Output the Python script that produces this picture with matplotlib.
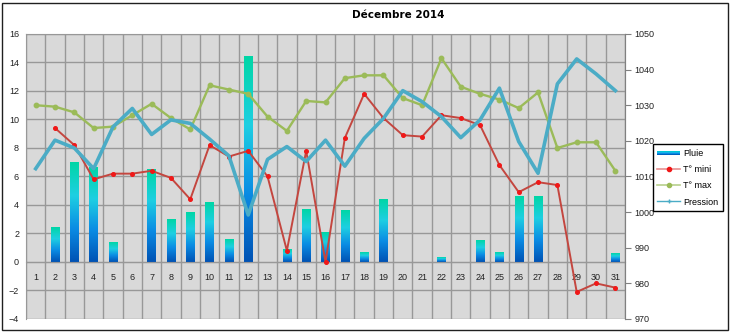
import numpy as np
import matplotlib
matplotlib.use("Agg")
import matplotlib.pyplot as plt
from matplotlib.colors import LinearSegmentedColormap
from matplotlib.patches import Rectangle
from matplotlib.lines import Line2D
from matplotlib.legend_handler import HandlerBase

plt.rcParams['font.family'] = ['Liberation Sans', 'DejaVu Sans']

# Relevés de décembre 2014
days = list(range(1, 32))
pluie = [0, 2.4, 7.0, 6.6, 1.4, 0, 6.5, 3.0, 3.5, 4.2, 1.6, 14.4, 0, 0.9, 3.7, 2.1,
         3.6, 0.7, 4.4, 0, 0, 0.3, 0, 1.5, 0.7, 4.6, 4.6, 0, 0, 0, 0.6]
t_mini = [np.nan, 9.4, 8.2, 5.8, 6.2, 6.2, 6.4, 5.9, 4.4, 8.2, 7.4, 7.8, 6.0, 0.8, 7.8, 0.0,
          8.7, 11.8, 10.1, 8.9, 8.8, 10.3, 10.1, 9.6, 6.8, 4.9, 5.6, 5.4, -2.1, -1.5, -1.8]
t_max = [11.0, 10.9, 10.5, 9.4, 9.5, 10.3, 11.1, 10.1, 9.3, 12.4, 12.1, 11.8, 10.2, 9.2, 11.3, 11.2,
         12.9, 13.1, 13.1, 11.5, 11.0, 14.3, 12.3, 11.8, 11.4, 10.8, 11.9, 8.0, 8.4, 8.4, 6.4]
pression = [1012.2, 1020.2, 1018.0, 1012.2, 1023.9, 1029.1, 1021.8, 1025.9, 1024.9, 1020.5, 1015.8,
            999.2, 1014.8, 1018.4, 1014.2, 1020.2, 1012.9, 1020.7, 1026.3, 1034.1, 1031.0, 1026.8,
            1020.9, 1025.9, 1034.8, 1019.8, 1010.9, 1036.0, 1043.0, 1038.8, 1034.1]

grid_col = '#989898'
pluie_cmap = LinearSegmentedColormap.from_list(
    'pluie', ['#0052B4', '#0A8CE4', '#1ECFE2', '#00D6A6'])  # bas -> haut


class GradientHandler(HandlerBase):
    # petit rectangle degrade pour la legende "Pluie"
    def create_artists(self, legend, orig_handle, xdescent, ydescent, width, height, fontsize, trans):
        arts = []
        cols = ['#00C8D8', '#16B4E8', '#0A8CE4', '#0062C0']
        h = height * 0.55
        y0 = (height - h) / 2 - ydescent
        for i, c in enumerate(cols):
            r = Rectangle((-xdescent, y0 + h - (i + 1) * h / len(cols)), width, h / len(cols),
                          facecolor=c, edgecolor='none', transform=trans)
            arts.append(r)
        return arts


fig = plt.figure(figsize=(7.31, 3.32), dpi=100)
ax = fig.add_axes([0.0356, 0.0392, 0.8194, 0.8584])
ax.set_facecolor('#D9D9D9')

# barres de pluie en degrade
grad = np.linspace(0, 1, 128).reshape(-1, 1)
bw = 0.43
for d, p in zip(days, pluie):
    if p > 0:
        ax.imshow(grad, extent=(d - bw / 2, d + bw / 2, 0, p), origin='lower',
                  cmap=pluie_cmap, aspect='auto', zorder=2, interpolation='bilinear')

ax.plot(days, t_mini, color='#C4463F', lw=1.4, marker='o', ms=2.6,
        mfc='#F01818', mec='#F01818', zorder=3)
ax.plot(days, t_max, color='#9BBB59', lw=1.7, marker='o', ms=3.2,
        mfc='#9BBB59', mec='#9BBB59', zorder=3)

ax.set_xlim(0.5, 31.5)
ax.set_ylim(-4, 16)
ax.set_yticks(range(-4, 17, 2))
ax.set_xticks(days)
ax.set_xticks(np.arange(0.5, 32, 1), minor=True)
ax.grid(True, which='minor', axis='x', color=grid_col, lw=1, zorder=1)
ax.grid(True, which='major', axis='y', color=grid_col, lw=1, zorder=1)
ax.set_axisbelow(True)
ax.spines['bottom'].set_position(('data', 0))
for s in ax.spines.values():
    s.set_color(grid_col)
ax.tick_params(axis='x', which='both', length=0, pad=8, labelsize=6.5, labelcolor='#222222')
ax.tick_params(axis='y', length=0, pad=5, labelsize=6.5, labelcolor='#222222')

ax2 = ax.twinx()
ax2.plot(days, pression, color='#4BACC6', lw=2.6, zorder=4)
ax2.set_ylim(970, 1050)
ax2.set_yticks(range(970, 1051, 10))
ax2.tick_params(axis='y', direction='out', length=4, color='#808080', pad=3,
                labelsize=6.5, labelcolor='#222222')
for s in ax2.spines.values():
    s.set_visible(False)
ax2.spines['right'].set_visible(True)
ax2.spines['right'].set_color('#808080')

fig.text(0.545, 0.955, 'Décembre 2014', ha='center', va='center',
         fontsize=7.5, fontweight='bold', family='DejaVu Sans')

# cadre du graphique
fig.patches.append(Rectangle((0.003, 0.006), 0.993, 0.984, transform=fig.transFigure,
                             fill=False, edgecolor='#202020', lw=1))

handles = [
    Rectangle((0, 0), 1, 1),
    Line2D([], [], color='#E89090', lw=1.2, marker='o', ms=3, mfc='#F01818', mec='#F01818'),
    Line2D([], [], color='#B8D08C', lw=1.2, marker='o', ms=3, mfc='#9BBB59', mec='#9BBB59'),
    Line2D([], [], color='#4BACC6', lw=1, marker='+', ms=2.5),
]
labels = ['Pluie', 'T° mini', 'T° max', 'Pression']
leg = fig.legend(handles, labels, loc='upper left', bbox_to_anchor=(0.893, 0.565),
                 fontsize=6.5, frameon=True, fancybox=False, edgecolor='black',
                 framealpha=1, borderpad=0.5, labelspacing=0.8, handlelength=2.5,
                 handletextpad=0.35, borderaxespad=0,
                 handler_map={Rectangle: GradientHandler()})
leg.get_frame().set_linewidth(1)

fig.savefig('out.png', dpi=100)
